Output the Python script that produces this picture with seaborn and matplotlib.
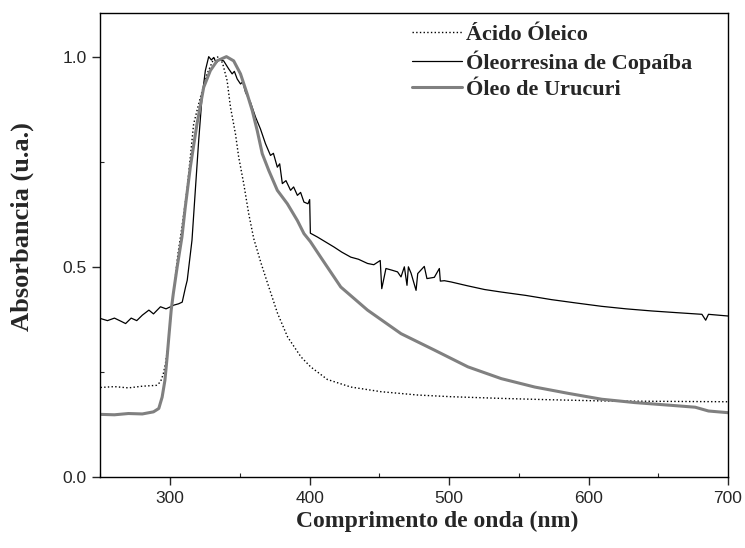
import matplotlib
matplotlib.use("Agg")
import matplotlib.pyplot as plt
from matplotlib.ticker import MultipleLocator
import seaborn as sns
import pandas as pd

# ---- data ----
oleico = [(250, 0.213), (260, 0.215), (270, 0.212), (280, 0.216), (290, 0.218), (293, 0.226),
          (295, 0.245), (296.6, 0.27), (298.3, 0.31), (300.2, 0.373), (301.4, 0.42), (303.4, 0.468),
          (305.5, 0.53), (308.4, 0.595), (312, 0.682), (316.8, 0.84), (321.6, 0.903), (326.4, 0.959),
          (331.2, 0.995), (334.7, 1.0), (337.5, 0.985), (340.8, 0.943), (343.2, 0.88), (346.8, 0.816),
          (349.1, 0.761), (352.7, 0.698), (356.3, 0.626), (359.9, 0.567), (365, 0.51), (370.3, 0.456),
          (377, 0.389), (384.2, 0.333), (393.7, 0.286), (400.7, 0.262), (412.7, 0.232), (429.5, 0.214),
          (451, 0.203), (477.5, 0.195), (501.4, 0.191), (537.4, 0.187), (570, 0.184), (609, 0.181),
          (650, 0.180), (700, 0.179)]

copaiba = [(250, 0.377), (255, 0.372), (260, 0.378), (265, 0.370), (268, 0.365), (272, 0.378),
           (276, 0.372), (280, 0.385), (284.7, 0.397), (288, 0.388), (293, 0.405), (297, 0.400),
           (302.7, 0.409), (306, 0.412), (308.6, 0.416), (311, 0.452), (312.2, 0.468), (315.6, 0.563),
           (318, 0.682), (320.4, 0.80), (322.8, 0.903), (325.2, 0.967), (327.6, 1.0), (329.5, 0.992),
           (331.2, 0.998), (333, 0.985), (335, 0.993), (338.3, 0.99), (341.9, 0.971), (344.4, 0.959),
           (346, 0.965), (348, 0.947), (350.4, 0.935), (352, 0.94), (354, 0.915), (357.6, 0.891),
           (361.2, 0.856), (364.7, 0.828), (368.3, 0.793), (371.9, 0.765), (374, 0.77), (376.8, 0.737),
           (378.5, 0.745), (380.4, 0.698), (383, 0.705), (386.3, 0.682), (388.5, 0.69), (391.2, 0.67),
           (393.5, 0.677), (395.9, 0.654), (398.8, 0.65), (400.0, 0.66), (400.5, 0.58), (405.5, 0.571),
           (411, 0.56), (417.5, 0.547), (423, 0.535), (429.5, 0.523), (435, 0.518), (441.5, 0.508),
           (446, 0.505), (450.6, 0.515), (451.7, 0.448), (454.7, 0.496), (459, 0.492), (463, 0.488),
           (465.5, 0.476), (467.9, 0.50), (469.8, 0.456), (470.8, 0.50), (472.7, 0.485), (476.3, 0.444),
           (477.5, 0.484), (482.2, 0.501), (484.1, 0.472), (489.4, 0.475), (493, 0.496), (493.7, 0.466),
           (496.6, 0.467), (501.4, 0.464), (513, 0.455), (525.4, 0.446), (537.4, 0.44), (555, 0.432),
           (573.3, 0.422), (591, 0.414), (609.4, 0.406), (627, 0.40), (645.3, 0.395), (663, 0.391),
           (681.3, 0.387), (684, 0.373), (686, 0.387), (700, 0.383)]

urucuri = [(250, 0.149), (260, 0.148), (270, 0.151), (280, 0.150), (288, 0.155), (291.8, 0.163),
           (294.2, 0.19), (296.2, 0.23), (297.8, 0.286), (299, 0.333), (300.7, 0.397), (302.2, 0.436),
           (305, 0.50), (308.4, 0.571), (310.8, 0.642), (314.4, 0.737), (319.2, 0.84), (324, 0.927),
           (328.8, 0.967), (333.6, 0.99), (340.3, 1.0), (345.5, 0.99), (350.4, 0.959), (355.2, 0.911),
           (358.8, 0.872), (362.4, 0.824), (366, 0.769), (370.7, 0.729), (376.8, 0.682), (384, 0.65),
           (391.2, 0.61), (395.9, 0.579), (400.5, 0.56), (407.9, 0.523), (422.3, 0.452), (441.5, 0.397),
           (465.5, 0.341), (489.4, 0.302), (513.5, 0.262), (537.4, 0.234), (561.4, 0.214), (585.4, 0.199),
           (609.4, 0.185), (633.3, 0.177), (657.3, 0.171), (676.5, 0.166), (686, 0.157), (700, 0.153)]

labels = ["Ácido Óleico", "Óleorresina de Copaíba", "Óleo de Urucuri"]
xticks = [300, 400, 500, 600, 700]
yticks = [0.0, 0.5, 1.0]

# ---- plot ----
sns.set_style("ticks")
plt.rcParams['font.family'] = ['Liberation Sans', 'DejaVu Sans']

fig = plt.figure(figsize=(7.45, 5.48), dpi=100)
ax = fig.add_axes([100.5 / 745, (548 - 477) / 548, (728 - 100.5) / 745, (477 - 12.5) / 548])

styles = [dict(color="black", linestyle=":", linewidth=1.0),
          dict(color="black", linestyle="-", linewidth=0.9),
          dict(color="#808080", linestyle="-", linewidth=2.2)]

for data, lab, st in zip([oleico, copaiba, urucuri], labels, styles):
    df = pd.DataFrame(data, columns=["wl", "abs"])
    sns.lineplot(data=df, x="wl", y="abs", ax=ax, label=lab, estimator=None,
                 errorbar=None, sort=True, **st)

ax.set_xlim(250, 700)
ax.set_ylim(0, 1.105)
ax.set_xticks(xticks)
ax.set_yticks(yticks)
ax.set_xticklabels([str(v) for v in xticks])
ax.set_yticklabels([f"{v:.1f}" for v in yticks])
ax.xaxis.set_minor_locator(MultipleLocator(50))
ax.yaxis.set_minor_locator(MultipleLocator(0.25))
ax.tick_params(which="major", direction="out", length=6, width=1.0, labelsize=12.5,
               top=False, right=False, pad=4)
ax.tick_params(which="minor", direction="in", length=3, width=0.8, top=False, right=False)
for sp in ax.spines.values():
    sp.set_linewidth(1.0)
    sp.set_visible(True)
    sp.set_color("black")

ax.set_xlabel("Comprimento de onda (nm)", family="Liberation Serif", fontweight="bold",
              fontsize=17, va="center", ha="center")
ax.set_ylabel("Absorbancia (u.a.)", family="Liberation Serif", fontweight="bold",
              fontsize=19, va="center", ha="center")
ax.xaxis.set_label_coords(0.536, -0.0947)
ax.yaxis.set_label_coords(-0.125, 0.54)

leg = ax.legend(loc="upper left", bbox_to_anchor=(412 / 745, 1 - 24.5 / 548),
                bbox_transform=fig.transFigure, frameon=False, borderpad=0, borderaxespad=0,
                handlelength=2.25, handletextpad=0.18, labelspacing=0.25,
                prop=dict(family="Liberation Serif", weight="bold", size=16))

fig.savefig("out.png", dpi=100)
